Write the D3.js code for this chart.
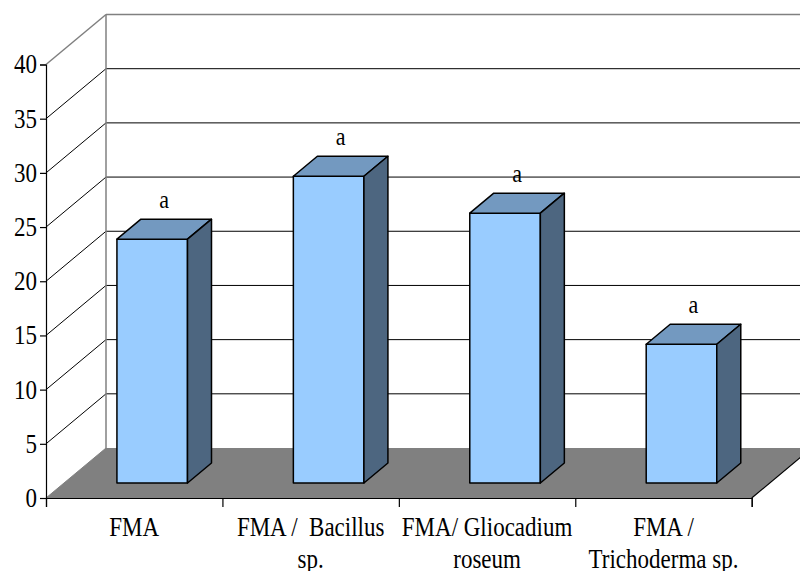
<!DOCTYPE html>
<html>
<head>
<meta charset="utf-8">
<script src="https://cdn.jsdelivr.net/npm/d3@7"></script>
<style>
  html, body { margin: 0; padding: 0; background: #fff; }
  svg text { font-family: 'Liberation Serif', 'Times New Roman', Times, 'DejaVu Serif', serif !important; }
</style>
</head>
<body>
<svg id="chart" width="800" height="571"></svg>
<script>
// Categories (two-line labels) and mean values
const categories = ["FMA", "FMA /  Bacillus sp.", "FMA/ Gliocadium roseum", "FMA / Trichoderma sp."];
const labelLines = [["FMA"], ["FMA /\u00a0\u00a0Bacillus", "sp."], ["FMA/ Gliocadium", "roseum"], ["FMA /", "Trichoderma sp."]];
const values = [22.5, 28.3, 24.9, 12.8];
const letters = ["a", "a", "a", "a"];
const yTicks = [0, 5, 10, 15, 20, 25, 30, 35, 40];

const svg = d3.select("#chart");
const stretch = 1.15;   // text glyphs are drawn slightly tall

// Front plane geometry plus a depth offset for the 3D box
const x0 = 46, x1 = 751.7, yBottom = 498, yTop = 64.5;
const depthX = 60, depthY = 50;
const barZ0 = 0.3, barZ1 = 0.7;

const y = d3.scaleLinear().domain([0, 40]).range([yBottom, yTop]);
const xBand = d3.scaleBand().domain(categories).range([x0, x1]).paddingInner(0.6).paddingOuter(0.3);
const xIdx = d3.scaleLinear().domain([0, categories.length]).range([x0, x1]);

// project a point (px on front plane, value, depth fraction)
const P = (px, v, z) => [px + z * depthX, y(v) - z * depthY];
const poly = pts => "M" + pts.map(p => p.join(",")).join("L") + "Z";

const wall = svg.append("g");
// back wall and side wall (white)
wall.append("path")
  .attr("d", poly([P(x0, 0, 1), P(x0, 40, 1), [800, y(40) - depthY], [800, y(0) - depthY]]))
  .attr("fill", "#fff");

// floor
wall.append("path")
  .attr("d", poly([P(x0, 0, 0), P(x1, 0, 0), P(x1, 0, 1), [820, y(0) - depthY], P(x0, 0, 1)]))
  .attr("fill", "#808080");
// floor right edge
wall.append("line")
  .attr("x1", x1).attr("y1", y(0))
  .attr("x2", x1 + depthX).attr("y2", y(0) - depthY)
  .attr("stroke", "#000").attr("stroke-width", 1.2);

// gridlines: side wall diagonals and back wall horizontals
yTicks.filter(v => v > 0).forEach(v => {
  const top = v === 40;
  const col = top ? "#808080" : "#000";
  const w = top ? 1.5 : 1;
  const a = P(x0, v, 0), b = P(x0, v, 1);
  wall.append("line").attr("x1", a[0]).attr("y1", a[1]).attr("x2", b[0]).attr("y2", b[1])
    .attr("stroke", col).attr("stroke-width", w);
  wall.append("line").attr("x1", b[0]).attr("y1", b[1]).attr("x2", 800).attr("y2", b[1])
    .attr("stroke", col).attr("stroke-width", w);
});
// back wall left edge
wall.append("line")
  .attr("x1", x0 + depthX).attr("y1", y(40) - depthY)
  .attr("x2", x0 + depthX).attr("y2", y(0) - depthY)
  .attr("stroke", "#808080").attr("stroke-width", 1.5);
// floor left edge
wall.append("line")
  .attr("x1", x0).attr("y1", y(0)).attr("x2", x0 + depthX).attr("y2", y(0) - depthY)
  .attr("stroke", "#808080").attr("stroke-width", 1);

// bars
const bars = svg.append("g")
  .attr("stroke", "#000").attr("stroke-width", 1.5).attr("stroke-linejoin", "round");
categories.forEach((c, i) => {
  const l = xBand(c), r = l + xBand.bandwidth(), v = values[i];
  const g = bars.append("g");
  // front
  g.append("path").attr("fill", "#99CCFF")
    .attr("d", poly([P(l, 0, barZ0), P(r, 0, barZ0), P(r, v, barZ0), P(l, v, barZ0)]));
  // top
  g.append("path").attr("fill", "#7399C0")
    .attr("d", poly([P(l, v, barZ0), P(r, v, barZ0), P(r, v, barZ1), P(l, v, barZ1)]));
  // side
  g.append("path").attr("fill", "#4D6680")
    .attr("d", poly([P(r, 0, barZ0), P(r, 0, barZ1), P(r, v, barZ1), P(r, v, barZ0)]));
  // significance letter
  const t = P(l + xBand.bandwidth() / 2, v, (barZ0 + barZ1) / 2);
  svg.append("text")
    .attr("transform", `translate(${t[0]},${y(v) - barZ1 * depthY - 11}) scale(1,${stretch})`)
    .attr("text-anchor", "middle").attr("font-size", 22).attr("fill", "#000")
    .text(letters[i]);
});

// value axis on the front plane
const yAxis = svg.append("g").attr("transform", `translate(${x0},0)`)
  .call(d3.axisLeft(y).tickValues(yTicks).tickSize(6).tickPadding(3).tickFormat(d3.format("d")));
yAxis.attr("font-size", 23);
yAxis.selectAll("text").attr("fill", "#000").attr("transform", `scale(1,${stretch})`);
yAxis.selectAll("line, path").attr("stroke", "#000").attr("stroke-width", 1.2);

// category axis: boundary ticks and two-line labels
const xAxis = svg.append("g").attr("transform", `translate(0,${yBottom})`)
  .call(d3.axisBottom(xIdx).tickValues(d3.range(categories.length + 1)).tickSize(9).tickFormat(""));
xAxis.selectAll("line, path").attr("stroke", "#000").attr("stroke-width", 1.2);

categories.forEach((c, i) => {
  const cx = xBand(c) + xBand.bandwidth() / 2;
  labelLines[i].forEach((line, j) => {
    svg.append("text")
      .attr("transform", `translate(${cx},${536 + j * 32}) scale(1,${stretch})`)
      .attr("text-anchor", "middle").attr("font-size", 23).attr("fill", "#000")
      .text(line);
  });
});
</script>
</body>
</html>
